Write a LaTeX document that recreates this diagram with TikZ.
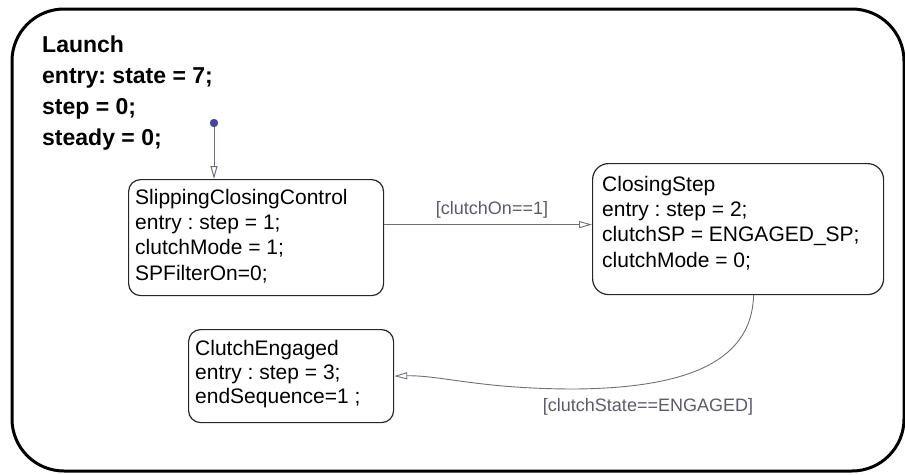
\documentclass[tikz,border=0pt]{standalone}
\usepackage{fontspec}
\setmainfont{Liberation Sans}
\usetikzlibrary{arrows.meta,calc}
\definecolor{translabel}{HTML}{5A5A6E}
\definecolor{transline}{HTML}{6E6E80}
\definecolor{defdot}{HTML}{45489A}
\frenchspacing
\begin{document}
\begin{tikzpicture}[x=1pt,y=-1pt,
  chart/.style={draw=black, line width=3pt, rounded corners=52pt},
  statebox/.style={draw=black!85, line width=1.2pt, inner sep=0pt, anchor=north west},
  statetext/.style={font=\fontsize{21}{25.3}\selectfont, align=left, inner sep=0pt, anchor=north west},
  chartext/.style={font=\bfseries\fontsize{23}{31}\selectfont, align=left, inner sep=0pt, anchor=north west},
  trans/.style={draw=transline, line width=0.9pt, -{Triangle[open, length=13pt, width=7pt, fill=white]}},
  guard/.style={text=translabel, font=\fontsize{18}{20}\selectfont, inner sep=0pt}]
\useasboundingbox (0,0) rectangle (905,474);

% outer chart Launch
\draw[chart] (12,9) rectangle (904,471);
\node[chartext] (launch) at (42,36) {Launch\\entry: state = 7;\\step = 0;\\steady = 0;};

% states
\node[statebox, minimum width=255pt, minimum height=116pt, rounded corners=12pt] (scc) at (128,179) {};
\node[statetext] (scctext) at (135,188.7) {SlippingClosingControl\\entry : step = 1;\\clutchMode = 1;\\SPFilterOn=0;};

\node[statebox, minimum width=291pt, minimum height=131pt, rounded corners=16pt] (cs) at (592,163) {};
\node[statetext] (cstext) at (602,175.7) {ClosingStep\\entry : step = 2;\\clutchSP = ENGAGED\_SP;\\clutchMode = 0;};

\node[statebox, minimum width=205pt, minimum height=93pt, rounded corners=12pt] (ce) at (188,329) {};
\node[statetext, font=\fontsize{21}{24}\selectfont] (cetext) at (195,340) {ClutchEngaged\\entry : step = 3;\\endSequence=1 ;};

% default transition
\coordinate (def) at (214,123);
\draw[trans, line width=1pt] (def) -- (def |- scc.north);
\fill[defdot] (def) circle (4.2pt);

% clutchOn transition
\path ([yshift=13pt]scc.east) coordinate (t1s);
\draw[trans] (t1s) -- (t1s -| cs.west);
\node[guard] (g1) at (492,210) {[clutchOn==1]};

% clutchState transition
\coordinate (t2s) at ($(cs.south west)!0.553!(cs.south east)$);
\coordinate (t2m) at (575,389);
\draw[trans] (t2s) .. controls (752,360) and (690,388) .. (t2m)
  .. controls (480,389) and (440,375) .. (ce.east);
\node[guard] (g2) at (648,407) {[clutchState==ENGAGED]};
\end{tikzpicture}
\end{document}
